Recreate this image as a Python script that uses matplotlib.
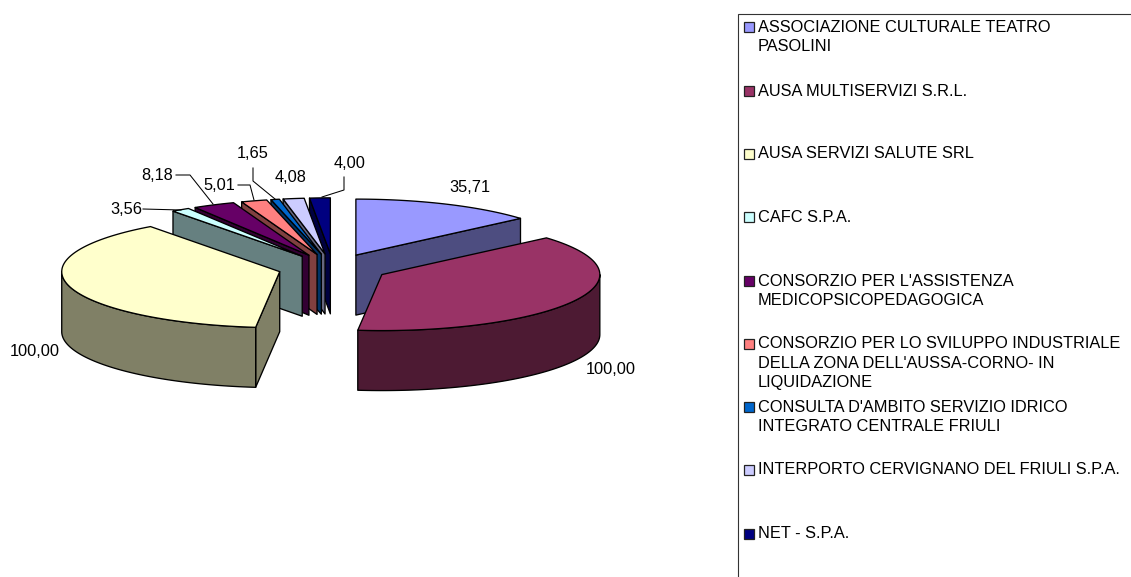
"""Exploded 3D-look pie with a clipped legend box, old spreadsheet style."""

import matplotlib

matplotlib.use("Agg")
import matplotlib.pyplot as plt
import numpy as np
from matplotlib.patches import Polygon, Rectangle

plt.rcParams["font.family"] = ["Liberation Sans", "DejaVu Sans"]

# ── data ──────────────────────────────────────────────────────────────────────
names = [
    "ASSOCIAZIONE CULTURALE TEATRO\nPASOLINI",
    "AUSA MULTISERVIZI S.R.L.",
    "AUSA SERVIZI SALUTE SRL",
    "CAFC S.P.A.",
    "CONSORZIO PER L'ASSISTENZA\nMEDICOPSICOPEDAGOGICA",
    "CONSORZIO PER LO SVILUPPO INDUSTRIALE\nDELLA ZONA DELL'AUSSA-CORNO- IN\nLIQUIDAZIONE",
    "CONSULTA D'AMBITO SERVIZIO IDRICO\nINTEGRATO CENTRALE FRIULI",
    "INTERPORTO CERVIGNANO DEL FRIULI S.P.A.",
    "NET - S.P.A.",
]
values = [35.71, 100.00, 100.00, 3.56, 8.18, 5.01, 1.65, 4.08, 4.00]
colors = [
    "#9999FF", "#993366", "#FFFFCC", "#CCFFFF", "#660066",
    "#FF8080", "#0066CC", "#CCCCFF", "#000080",
]

# ── layout (pixels) ───────────────────────────────────────────────────────────
cx, cy = 333, 268
rx, ry = 218, 56
depth = 60
explode = 0.253
fs = 11.8
lw = 0.95

label_pos = [(470, 188), (611, 370), (35, 352), (126, 210), (157, 175),
             (219, 186), (253, 154), (291, 177), (350, 163)]
leaders = {
    3: [(143, 209), (181, 210)],
    4: [(176, 175), (190, 175), (213, 204)],
    5: [(238, 185), (250, 185), (254, 200)],
    6: [(253, 168), (253, 181), (275, 199)],
    8: [(322, 197), (344, 190), (344, 177)],
}
legend_rows = [27, 91, 154, 217, 281, 344, 407, 470, 534]
line_step = 19.5

fig = plt.figure(figsize=(11.31, 5.77), dpi=100)
ax = fig.add_axes([0, 0, 1, 1])
ax.set_xlim(0, 1131)
ax.set_ylim(577, 0)
ax.axis("off")


def pt(x0, y0, deg, r=1.0):
    a = np.radians(deg)
    return x0 + r * rx * np.sin(a), y0 - r * ry * np.cos(a)


def shade(color):
    r, g, b = matplotlib.colors.to_rgb(color)
    return (r * 0.5, g * 0.5, b * 0.5)


def arc(x0, y0, a, b):
    ang = np.linspace(a, b, 80)
    xs, ys = pt(x0, y0, ang)
    return np.column_stack([xs, ys])


def poly(points, color, z):
    ax.add_patch(Polygon(points, closed=True, fc=color, ec="k", lw=lw, joinstyle="round", zorder=z))


def draw_slice(i, a, b, z):
    mid = (a + b) / 2
    ox, oy = pt(cx, cy, mid, explode)
    dark = shade(colors[i])
    # side walls that face the viewer
    for edge, normal in ((a, a - 90), (b, b + 90)):
        if np.cos(np.radians(normal)) < -1e-6:
            ex, ey = pt(ox, oy, edge)
            poly([(ox, oy), (ex, ey), (ex, ey + depth), (ox, oy + depth)], dark, z)
    # rim, only the front half of the ellipse shows
    lo, hi = max(a, 90), min(b, 270)
    if lo < hi:
        top = arc(ox, oy, lo, hi)
        bottom = top[::-1] + [0, depth]
        poly(np.vstack([top, bottom]), dark, z)
    # top face
    poly(np.vstack([[(ox, oy)], arc(ox, oy, a, b)]), colors[i], z + 0.5)


# ── pie ───────────────────────────────────────────────────────────────────────
edges = np.concatenate([[0], np.cumsum(values)]) / sum(values) * 360
mids = (edges[:-1] + edges[1:]) / 2
order = np.argsort(-np.cos(np.radians(mids)))
for z, i in enumerate(order):
    draw_slice(i, edges[i], edges[i + 1], z + 1)

# ── value labels ──────────────────────────────────────────────────────────────
for v, (x, y) in zip(values, label_pos):
    ax.text(x, y, f"{v:.2f}".replace(".", ","), fontsize=fs, ha="center", va="center", zorder=30)
for pts in leaders.values():
    xs, ys = zip(*pts)
    ax.plot(xs, ys, color="k", lw=0.75, zorder=30)

# ── legend ────────────────────────────────────────────────────────────────────
ax.add_patch(Rectangle((737.5, 14), 500, 700, fc="white", ec="#333333", lw=0.8, zorder=20))
for name, color, y in zip(names, colors, legend_rows):
    ax.add_patch(Rectangle((744, y - 5), 9.5, 9.5, fc=color, ec="#222222", lw=0.9, zorder=21))
    for n, line in enumerate(name.split("\n")):
        ax.text(757.5, y + n * line_step, line, fontsize=fs, ha="left", va="center", zorder=21)

fig.savefig("out.png", dpi=100)
